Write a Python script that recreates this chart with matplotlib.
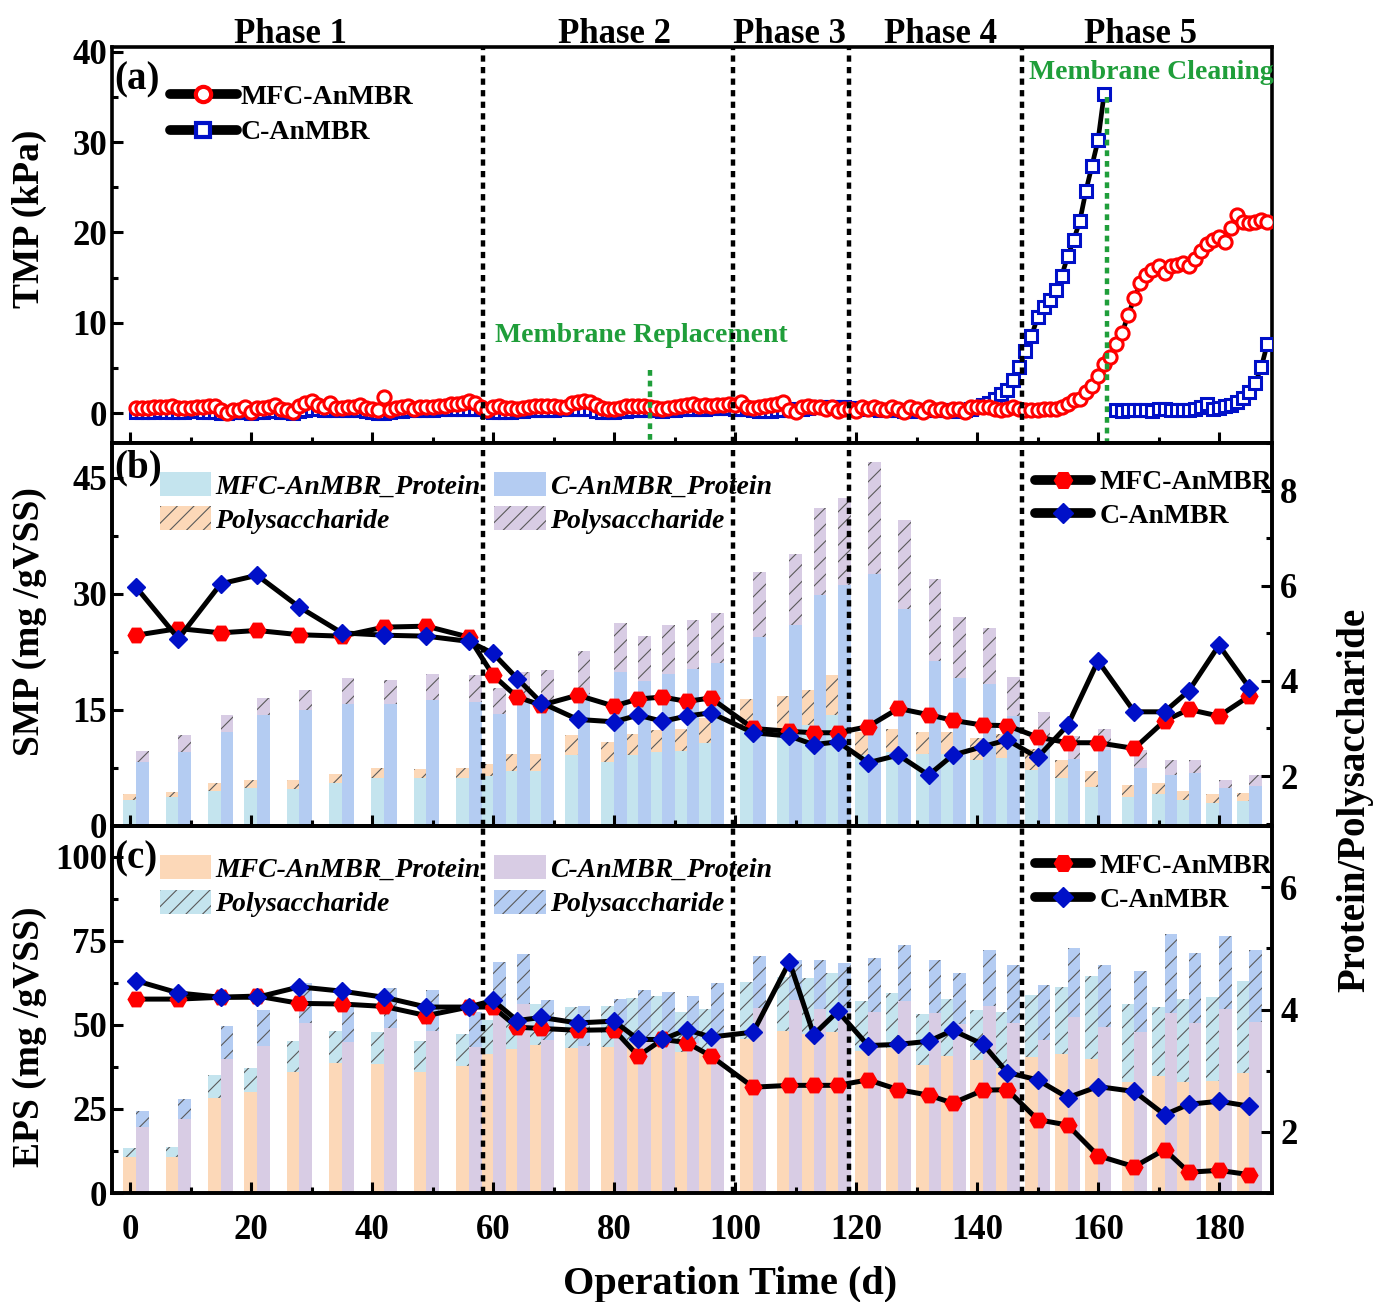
import numpy as np
import matplotlib.pyplot as plt
from matplotlib.lines import Line2D
from matplotlib.patches import Patch
from matplotlib.ticker import MultipleLocator

plt.rcParams['font.family'] = ['Liberation Serif', 'DejaVu Serif']
plt.rcParams['font.weight'] = 'bold'
plt.rcParams['axes.labelweight'] = 'bold'
plt.rcParams['hatch.linewidth'] = 0.8

# ---------------- data ----------------
# (a) daily TMP, kPa, days 1..188
tmp_days = np.arange(1, 189)
tmp_mfc = [
    0.52, 0.55, 0.59, 0.62, 0.70, 0.70, 0.78, 0.59, 0.59, 0.60,
    0.70, 0.70, 0.78, 0.78, 0.33, 0.00, 0.33, 0.35, 0.63, 0.10,
    0.52, 0.59, 0.70, 0.89, 0.41, 0.33, 0.10, 0.78, 1.07, 1.33,
    0.89, 0.70, 1.07, 0.52, 0.59, 0.70, 0.70, 0.89, 0.52, 0.41,
    0.33, 1.81, 0.33, 0.52, 0.70, 0.78, 0.41, 0.70, 0.70, 0.70,
    0.78, 0.78, 1.00, 1.00, 1.15, 1.37, 1.07, 0.70, 0.33, 0.70,
    0.78, 0.52, 0.52, 0.41, 0.52, 0.70, 0.78, 0.78, 0.78, 0.78,
    0.70, 0.70, 1.07, 1.26, 1.33, 1.26, 0.89, 0.52, 0.41, 0.41,
    0.59, 0.78, 0.78, 0.78, 0.78, 0.70, 0.52, 0.41, 0.59, 0.70,
    0.78, 0.89, 0.96, 0.80, 0.85, 0.80, 0.85, 0.90, 0.95, 0.90,
    1.26, 0.70, 0.60, 0.70, 0.80, 0.90, 0.95, 1.26, 0.33, 0.15,
    0.70, 0.80, 0.70, 0.70, 0.40, 0.70, 0.26, 0.40, 0.40, 0.26,
    0.70, 0.50, 0.70, 0.50, 0.33, 0.70, 0.50, 0.15, 0.70, 0.50,
    0.15, 0.70, 0.33, 0.50, 0.26, 0.40, 0.40, 0.15, 0.70, 0.70,
    0.70, 0.70, 0.50, 0.33, 0.50, 0.70, 0.50, 0.30, 0.33, 0.35,
    0.40, 0.42, 0.50, 0.70, 1.00, 1.40, 1.50, 2.30, 3.00, 4.10,
    5.40, 6.20, 7.70, 8.90, 10.9, 12.7, 14.4, 15.3, 15.8, 16.3,
    15.5, 16.3, 16.4, 16.6, 16.3, 17.1, 18.0, 18.7, 19.2, 19.5,
    19.0, 20.5, 21.9, 21.2, 21.1, 21.2, 21.4, 21.2]
tmp_c = [
    0.15, 0.10, 0.10, 0.15, 0.20, 0.15, 0.10, 0.10, 0.15, 0.20,
    0.20, 0.15, 0.10, 0.10, 0.05, 0.00, 0.10, 0.10, 0.15, 0.05,
    0.10, 0.15, 0.20, 0.20, 0.15, 0.10, 0.05, 0.20, 0.35, 0.40,
    0.40, 0.35, 0.35, 0.30, 0.30, 0.30, 0.35, 0.35, 0.20, 0.10,
    0.05, 0.05, 0.10, 0.20, 0.25, 0.30, 0.30, 0.30, 0.35, 0.35,
    0.40, 0.40, 0.45, 0.45, 0.50, 0.50, 0.45, 0.40, 0.20, 0.15,
    0.15, 0.10, 0.15, 0.20, 0.25, 0.30, 0.30, 0.35, 0.35, 0.35,
    0.40, 0.40, 0.45, 0.50, 0.50, 0.45, 0.20, 0.15, 0.10, 0.15,
    0.20, 0.25, 0.30, 0.30, 0.35, 0.35, 0.30, 0.25, 0.30, 0.35,
    0.40, 0.45, 0.45, 0.50, 0.50, 0.55, 0.55, 0.60, 0.55, 0.50,
    0.45, 0.40, 0.30, 0.20, 0.20, 0.25, 0.30, 0.30, 0.35, 0.40,
    0.50, 0.60, 0.65, 0.70, 0.70, 0.70, 0.65, 0.65, 0.60, 0.55,
    0.50, 0.45, 0.40, 0.35, 0.30, 0.30, 0.30, 0.25, 0.25, 0.30,
    0.30, 0.35, 0.35, 0.30, 0.30, 0.25, 0.30, 0.35, 0.50, 0.70,
    0.90, 1.10, 1.60, 2.10, 2.60, 3.65, 5.10, 6.90, 8.50, 10.6,
    11.8, 12.5, 13.6, 15.2, 17.4, 19.2, 21.3, 24.6, 27.4, 30.2,
    35.3, np.nan, 0.30, 0.20, 0.35, 0.35, 0.35, 0.30, 0.20, 0.50,
    0.50, 0.35, 0.35, 0.35, 0.35, 0.40, 0.70, 0.95, 0.40, 0.60,
    0.80, 0.85, 1.20, 1.70, 2.30, 3.30, 5.10, 7.70]

# sampling days for SMP / EPS
days = [1, 8, 15, 21, 28, 35, 42, 49, 56, 60, 64, 68, 74, 80, 84, 88, 92, 96,
        103, 109, 113, 117, 122, 127, 132, 136, 141, 145, 150, 155, 160, 166,
        171, 175, 180, 185]

# (b) SMP, mg/gVSS
smp_mfc_pn = [3.3, 3.7, 4.5, 4.9, 4.8, 5.5, 6.2, 6.15, 6.15, 6.4, 7.1, 7.1,
              9.2, 8.3, 9.2, 9.6, 9.7, 10.7, 12.4, 12.6, 13.1, 14.4, 9.2, 9.6,
              9.3, 9.3, 8.5, 8.8, 7.2, 6.15, 5.1, 3.8, 4.1, 3.4, 3.0, 3.25]
smp_mfc_ps = [0.9, 0.7, 1.0, 1.1, 1.1, 1.2, 1.3, 1.25, 1.35, 1.6, 2.2, 2.2,
              2.6, 2.5, 2.7, 2.8, 2.9, 3.25, 4.0, 4.2, 4.5, 5.1, 3.0, 3.0,
              2.9, 2.9, 2.9, 3.1, 2.8, 2.35, 2.0, 1.5, 1.4, 1.1, 1.1, 1.05]
smp_c_pn = [8.3, 9.6, 12.1, 14.3, 15.0, 15.8, 15.8, 16.25, 16.0, 14.5, 15.9,
            15.5, 17.0, 19.9, 18.8, 19.7, 20.3, 21.1, 24.4, 26.0, 29.9, 31.1,
            32.6, 28.0, 21.3, 19.1, 18.4, 14.2, 10.7, 8.7, 9.8, 7.45, 6.6, 6.8,
            4.9, 5.15]
smp_c_ps = [1.45, 2.1, 2.2, 2.3, 2.6, 3.3, 3.1, 3.35, 3.5, 3.3, 4.0, 4.7, 5.6,
            6.3, 5.8, 6.3, 6.3, 6.4, 8.4, 9.1, 11.2, 11.3, 14.4, 11.6, 10.6,
            7.9, 7.2, 5.0, 4.0, 2.9, 2.8, 2.35, 1.9, 1.7, 1.1, 1.45]
smp_ratio_mfc = [4.96, 5.10, 5.01, 5.06, 4.97, 4.94, 5.13, 5.15, 4.92, 4.12,
                 3.66, 3.49, 3.70, 3.47, 3.62, 3.66, 3.57, 3.64, 3.00, 2.94,
                 2.91, 2.91, 3.04, 3.42, 3.29, 3.17, 3.07, 3.06, 2.82, 2.70,
                 2.70, 2.58, 3.16, 3.40, 3.26, 3.68]
smp_ratio_c = [5.97, 4.89, 6.04, 6.22, 5.55, 5.01, 4.96, 4.94, 4.83, 4.58,
               4.05, 3.54, 3.19, 3.14, 3.28, 3.15, 3.26, 3.33, 2.91, 2.84,
               2.66, 2.72, 2.28, 2.44, 2.02, 2.44, 2.62, 2.76, 2.39, 3.07,
               4.42, 3.35, 3.35, 3.79, 4.75, 3.86]

# (c) EPS, mg/gVSS
eps_mfc_pn = [10.6, 10.8, 28.4, 30.0, 36.1, 38.6, 38.3, 35.9, 37.8, 41.4,
              42.8, 44.0, 43.1, 43.4, 44.6, 43.75, 41.9, 42.5, 45.7, 48.2,
              47.3, 48.0, 42.4, 43.1, 38.1, 40.9, 39.6, 37.1, 40.4, 41.4,
              39.8, 33.1, 34.7, 33.1, 33.4, 35.7]
eps_mfc_ps = [2.7, 2.8, 6.7, 7.3, 9.1, 9.6, 9.6, 9.4, 9.5, 10.1, 10.2, 12.2,
              12.1, 12.1, 13.3, 14.75, 11.9, 12.3, 17.2, 16.2, 16.6, 17.4,
              14.8, 16.3, 15.1, 16.8, 14.9, 16.9, 18.5, 20.0, 24.9, 23.1,
              20.5, 24.6, 24.8, 27.4]
eps_c_pn = [19.7, 22.1, 39.8, 43.75, 50.7, 44.8, 49.0, 48.3, 43.3, 54.5, 56.2,
            45.4, 43.75, 45.7, 45.4, 45.4, 44.6, 46.2, 55.0, 57.3, 54.8, 54.0,
            54.0, 57.0, 53.7, 50.3, 55.7, 50.5, 45.5, 52.3, 49.5, 48.0, 53.5,
            50.5, 54.7, 51.0]
eps_c_ps = [4.7, 5.8, 9.8, 10.75, 11.7, 10.7, 11.9, 12.1, 10.6, 14.2, 14.8,
            11.9, 11.75, 12.0, 15.0, 14.4, 14.1, 16.2, 15.4, 12.0, 14.5, 14.5,
            16.0, 16.8, 15.5, 15.1, 16.6, 17.4, 16.4, 20.5, 18.4, 18.2, 23.5,
            20.8, 21.8, 21.4]
eps_ratio_mfc = [4.17, 4.17, 4.20, 4.22, 4.10, 4.09, 4.05, 3.90, 4.04, 4.04,
                 3.71, 3.69, 3.66, 3.67, 3.24, 3.51, 3.46, 3.24, 2.73, 2.76,
                 2.76, 2.76, 2.85, 2.69, 2.60, 2.47, 2.68, 2.69, 2.20, 2.11,
                 1.61, 1.43, 1.71, 1.34, 1.37, 1.30]
eps_ratio_c = [4.47, 4.27, 4.20, 4.20, 4.37, 4.30, 4.20, 4.04, 4.04, 4.15,
               3.82, 3.87, 3.78, 3.81, 3.51, 3.51, 3.67, 3.55, 3.63, 4.78,
               3.59, 3.97, 3.41, 3.43, 3.48, 3.66, 3.43, 2.97, 2.85, 2.56,
               2.74, 2.66, 2.28, 2.45, 2.50, 2.42]

phase_bounds = [58.4, 99.6, 118.9, 147.4]
phase_names = ['Phase 1', 'Phase 2', 'Phase 3', 'Phase 4', 'Phase 5']
phase_label_x = [26.5, 80, 109, 134, 167]

# ---------------- styling ----------------
c_cyan = '#c4e4ee'
c_peach = '#fcd8b8'
c_blue = '#b4ccf2'
c_lav = '#d8cce4'
hatch_col = '#5a5a5a'
green = '#1f9e3a'
red = '#ff0000'
navy = '#0010c8'
TICK_FS = 25

fig = plt.figure(figsize=(13.74, 13.02), dpi=100)
L, R = 112 / 1374, 1272 / 1374


def fy(p):
    return 1 - p / 1302


ax_a = fig.add_axes([L, fy(443), R - L, fy(47) - fy(443)])
ax_b = fig.add_axes([L, fy(826), R - L, fy(443) - fy(826)])
ax_c = fig.add_axes([L, fy(1193), R - L, fy(826) - fy(1193)])


def style(ax, right=False):
    for s in ax.spines.values():
        s.set_linewidth(2.6)
    ax.tick_params(which='both', direction='in', width=2.2, labelsize=TICK_FS,
                   top=False, right=right, left=not right)
    ax.tick_params(which='major', length=8)
    ax.tick_params(which='minor', length=4)


for ax in (ax_a, ax_b, ax_c):
    ax.set_xlim(-2.98, 188.76)
    ax.xaxis.set_major_locator(MultipleLocator(20))
    ax.xaxis.set_minor_locator(MultipleLocator(10))
    style(ax)
ax_a.tick_params(axis='x', labelbottom=False)
ax_b.tick_params(axis='x', labelbottom=False)
ax_c.tick_params(axis='x', pad=15)

# ---------------- (a) TMP ----------------
ax_a.plot(tmp_days, tmp_c, color='k', lw=3.4, marker='s', ms=8.5, mfc='white',
          mec=navy, mew=2.2, zorder=3)
ax_a.plot(tmp_days, tmp_mfc, color='k', lw=3.4, marker='o', ms=9.5, mfc='white',
          mec=red, mew=2.2, zorder=4)
ax_a.set_ylim(-3.32, 40.55)
ax_a.yaxis.set_major_locator(MultipleLocator(10))
ax_a.yaxis.set_minor_locator(MultipleLocator(5))
ax_a.set_ylabel('TMP (kPa)', fontsize=27)
ax_a.yaxis.set_label_coords(-0.056, 0.566)

ax_a.plot([86, 86], [4.8, -3.32], color=green, lw=3.2, ls=(0, (1.3, 1.1)), zorder=5)
ax_a.plot([161.5, 161.5], [35.0, -3.32], color=green, lw=3.2, ls=(0, (1.3, 1.1)), zorder=5)
ax_a.text(60.3, 8.6, 'Membrane Replacement', color=green, fontsize=20,
          ha='left', va='center')
ax_a.text(148.6, 37.7, 'Membrane Cleaning', color=green, fontsize=20,
          ha='left', va='center')
ax_a.text(0.002, 0.918, '(a)', transform=ax_a.transAxes, fontsize=28,
          ha='left', va='center')

leg_a = [Line2D([], [], color='k', lw=7, solid_capstyle='round', marker='o',
                ms=11, mfc='white', mec=red, mew=3),
         Line2D([], [], color='k', lw=7, solid_capstyle='round', marker='s',
                ms=10, mfc='white', mec=navy, mew=3)]
ax_a.legend(leg_a, ['MFC-AnMBR', 'C-AnMBR'], loc='upper left',
            bbox_to_anchor=(0.05, 0.905), frameon=False, fontsize=20,
            handlelength=2.4, handletextpad=0.15, labelspacing=0.35,
            borderpad=0, borderaxespad=0)

# ---------------- bars helper ----------------
w = 2.1
d = np.array(days)


def stacked(ax, pn1, ps1, pn2, ps2, c1, c1h, c2, c2h, top):
    ax.bar(d, pn1, width=-w, align='edge', color=c1, lw=0, zorder=1)
    ax.bar(d, ps1, width=-w, align='edge', bottom=pn1, color=c1h, hatch='//',
           edgecolor=hatch_col, lw=0, zorder=1)
    ax.bar(d, pn2, width=w, align='edge', color=c2, lw=0, zorder=1)
    ax.bar(d, ps2, width=w, align='edge', bottom=pn2, color=c2h, hatch='//',
           edgecolor=hatch_col, lw=0, zorder=1)
    handles = [Patch(facecolor=c1, lw=0),
               Patch(facecolor=c1h, hatch='//', edgecolor=hatch_col, lw=0),
               Patch(facecolor=c2, lw=0),
               Patch(facecolor=c2h, hatch='//', edgecolor=hatch_col, lw=0)]
    labels = ['MFC-AnMBR_Protein', 'Polysaccharide', 'C-AnMBR_Protein',
              'Polysaccharide']
    lg = ax.legend(handles, labels, ncol=2, loc='upper left',
                   bbox_to_anchor=(0.041, top), frameon=False,
                   prop={'size': 20, 'style': 'italic', 'weight': 'bold'},
                   handlelength=1.85, handleheight=0.95, handletextpad=0.15,
                   columnspacing=0.5, labelspacing=0.25, borderpad=0,
                   borderaxespad=0)
    return lg


def ratio_lines(tx, r_mfc, r_c, top):
    tx.plot(d, r_mfc, color='k', lw=3.6, marker='H', ms=12, mfc=red, mec=red,
            zorder=6)
    tx.plot(d, r_c, color='k', lw=3.6, marker='D', ms=9, mfc=navy, mec=navy,
            zorder=6)
    hs = [Line2D([], [], color='k', lw=7, solid_capstyle='round', marker='H',
                 ms=13, mfc=red, mec=red),
          Line2D([], [], color='k', lw=7, solid_capstyle='round', marker='D',
                 ms=10, mfc=navy, mec=navy)]
    tx.legend(hs, ['MFC-AnMBR', 'C-AnMBR'], loc='upper right',
              bbox_to_anchor=(1.0, top), frameon=False, fontsize=20,
              handlelength=2.0, handletextpad=0.3, labelspacing=0.3,
              borderpad=0, borderaxespad=0)


# ---------------- (b) SMP ----------------
stacked(ax_b, smp_mfc_pn, smp_mfc_ps, smp_c_pn, smp_c_ps,
        c_cyan, c_peach, c_blue, c_lav, 0.925)
ax_b.set_ylim(0, 49.5)
ax_b.yaxis.set_major_locator(MultipleLocator(15))
ax_b.yaxis.set_minor_locator(MultipleLocator(7.5))
ax_b.set_ylabel('SMP (mg /gVSS)', fontsize=27)
ax_b.yaxis.set_label_coords(-0.056, 0.533)
ax_b.text(0.002, 0.935, '(b)', transform=ax_b.transAxes, fontsize=28,
          ha='left', va='center', zorder=10)

bx = ax_b.twinx()
bx.set_xlim(-2.98, 188.76)
bx.set_ylim(0.95, 9.0)
style(bx, right=True)
bx.set_yticks([2, 4, 6, 8])
bx.yaxis.set_minor_locator(MultipleLocator(1))
bx.tick_params(axis='y', pad=6)
ratio_lines(bx, smp_ratio_mfc, smp_ratio_c, 0.93)

# ---------------- (c) EPS ----------------
stacked(ax_c, eps_mfc_pn, eps_mfc_ps, eps_c_pn, eps_c_ps,
        c_peach, c_cyan, c_lav, c_blue, 0.92)
ax_c.set_ylim(0, 109.2)
ax_c.yaxis.set_major_locator(MultipleLocator(25))
ax_c.yaxis.set_minor_locator(MultipleLocator(12.5))
ax_c.set_ylabel('EPS (mg /gVSS)', fontsize=27)
ax_c.yaxis.set_label_coords(-0.056, 0.425)
ax_c.set_xlabel('Operation Time (d)', fontsize=29)
ax_c.xaxis.set_label_coords(0.533, -0.2)
ax_c.text(0.002, 0.91, '(c)', transform=ax_c.transAxes, fontsize=28,
          ha='left', va='center', zorder=10)

cx = ax_c.twinx()
cx.set_xlim(-2.98, 188.76)
cx.set_ylim(1.0, 7.0)
style(cx, right=True)
cx.set_yticks([2, 4, 6])
cx.yaxis.set_minor_locator(MultipleLocator(1))
cx.tick_params(axis='y', pad=6)
ratio_lines(cx, eps_ratio_mfc, eps_ratio_c, 0.925)

# phase boundaries
for ax in (ax_a, bx, cx):
    for xb in phase_bounds:
        ax.axvline(xb, color='k', lw=3.2, ls=(0, (1.4, 1.2)), zorder=8)

for name, xp in zip(phase_names, phase_label_x):
    ax_a.text(xp, 1.01, name, transform=ax_a.get_xaxis_transform(),
              fontsize=25, ha='center', va='baseline')

fig.text(1355 / 1374, fy(800), 'Protein/Polysaccharide', fontsize=28,
         rotation=90, ha='center', va='center')

fig.savefig('out.png', dpi=100)
